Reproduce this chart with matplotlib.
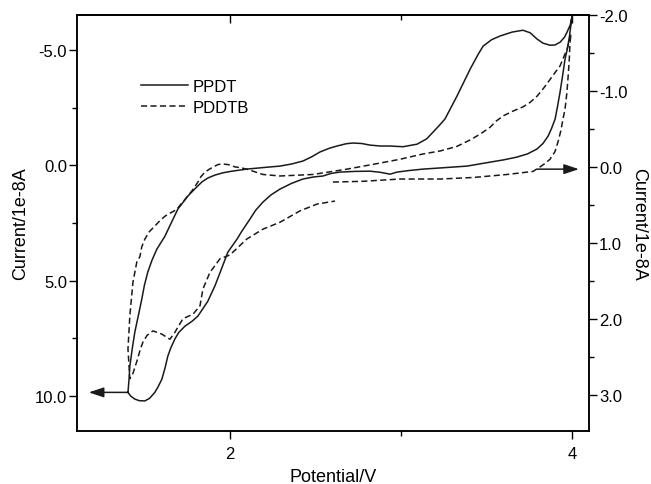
import matplotlib.pyplot as plt
from matplotlib.ticker import MultipleLocator, FormatStrFormatter

plt.rcParams['font.family'] = ['Liberation Sans', 'DejaVu Sans']

# PPDT (solid, left axis), current in 1e-8 A, cathodic up
ppdt_v = [1.404, 1.410, 1.415, 1.430, 1.444, 1.465, 1.485, 1.500, 1.520, 1.545,
          1.573, 1.620, 1.650, 1.696, 1.754, 1.800, 1.836, 1.870, 1.912, 1.960,
          2.012, 2.099, 2.200, 2.292, 2.360, 2.427, 2.480, 2.526, 2.580, 2.626,
          2.680, 2.719, 2.770, 2.819, 2.880, 2.936, 3.012, 3.094, 3.150, 3.187,
          3.220, 3.257, 3.327, 3.404, 3.450, 3.480, 3.530, 3.579, 3.650, 3.713,
          3.755, 3.795, 3.830, 3.871, 3.900, 3.930, 3.955, 3.971, 3.990, 4.000,
          3.985, 3.971, 3.959, 3.945, 3.930, 3.915, 3.901, 3.880, 3.860, 3.830,
          3.795, 3.740, 3.678, 3.600, 3.520, 3.386, 3.250, 3.129, 3.050, 2.977,
          2.936, 2.880, 2.819, 2.730, 2.643, 2.590, 2.544, 2.490, 2.427, 2.360,
          2.292, 2.240, 2.193, 2.150, 2.117, 2.070, 2.041, 1.988, 1.950, 1.912,
          1.870, 1.813, 1.780, 1.737, 1.700, 1.678, 1.655, 1.637, 1.620, 1.602,
          1.580, 1.561, 1.530, 1.503, 1.470, 1.444, 1.420, 1.404]
ppdt_i = [9.84, 9.30, 8.70, 7.90, 7.23, 6.50, 5.79, 5.20, 4.62, 4.10,
          3.63, 3.07, 2.60, 1.89, 1.33, 0.98, 0.72, 0.55, 0.42, 0.32,
          0.25, 0.16, 0.09, 0.03, -0.06, -0.19, -0.38, -0.58, -0.74, -0.84,
          -0.94, -0.97, -0.95, -0.88, -0.84, -0.84, -0.81, -0.92, -1.15, -1.44,
          -1.70, -2.01, -3.00, -4.17, -4.80, -5.17, -5.45, -5.61, -5.78, -5.86,
          -5.75, -5.48, -5.30, -5.21, -5.22, -5.34, -5.55, -5.78, -6.10, -6.47,
          -5.60, -5.00, -4.61, -3.90, -3.18, -2.55, -2.01, -1.60, -1.27, -0.95,
          -0.71, -0.50, -0.36, -0.24, -0.14, 0.03, 0.10, 0.16, 0.22, 0.29,
          0.38, 0.30, 0.25, 0.26, 0.29, 0.35, 0.46, 0.50, 0.59, 0.78,
          1.03, 1.28, 1.59, 1.95, 2.33, 2.85, 3.20, 3.76, 4.50, 5.23,
          5.90, 6.53, 6.75, 6.97, 7.25, 7.53, 7.90, 8.27, 8.80, 9.27,
          9.60, 9.84, 10.10, 10.21, 10.20, 10.13, 10.00, 9.84]

# PDDTB (dashed, right axis)
pddtb_v = [2.602, 2.778, 2.994, 3.228, 3.421, 3.620, 3.772, 3.813, 3.845, 3.871,
           3.900, 3.918, 3.935, 3.947, 3.959, 3.970, 3.977, 3.984, 3.988, 3.994,
           3.985, 3.971, 3.950, 3.930, 3.900, 3.871, 3.835, 3.795, 3.755, 3.713,
           3.650, 3.596, 3.555, 3.520, 3.462, 3.400, 3.327, 3.230, 3.129, 2.994,
           2.877, 2.684, 2.485, 2.292, 2.193, 2.099, 2.060, 2.029, 1.990, 1.953,
           1.930, 1.912, 1.880, 1.854, 1.830, 1.813, 1.780, 1.737, 1.710, 1.690,
           1.650, 1.620, 1.590, 1.561, 1.530, 1.503, 1.485, 1.474, 1.456, 1.433,
           1.415, 1.404, 1.415,
           1.433, 1.456, 1.474, 1.491, 1.515, 1.550, 1.600, 1.649, 1.678, 1.725,
           1.784, 1.825, 1.842, 1.883, 1.942, 2.000, 2.099, 2.193, 2.292, 2.409,
           2.509, 2.614]
pddtb_i = [0.20, 0.19, 0.16, 0.16, 0.14, 0.10, 0.06, 0.00, -0.05, -0.10,
           -0.20, -0.33, -0.48, -0.63, -0.76, -0.98, -1.19, -1.42, -1.64, -1.75,
           -1.66, -1.55, -1.44, -1.33, -1.24, -1.15, -1.04, -0.93, -0.85, -0.79,
           -0.73, -0.67, -0.60, -0.52, -0.43, -0.35, -0.27, -0.21, -0.17, -0.10,
           -0.05, 0.03, 0.10, 0.12, 0.10, 0.03, 0.01, 0.00, -0.03, -0.04,
           -0.03, -0.01, 0.03, 0.07, 0.13, 0.20, 0.31, 0.43, 0.50, 0.56,
           0.61, 0.65, 0.71, 0.78, 0.85, 0.95, 1.05, 1.18, 1.25, 1.52,
           1.96, 2.40, 2.79,
           2.72, 2.56, 2.42, 2.31, 2.22, 2.16, 2.20, 2.27, 2.18, 2.00,
           1.94, 1.83, 1.61, 1.39, 1.21, 1.16, 0.95, 0.82, 0.73, 0.58,
           0.49, 0.45]

# arrows marking which axis belongs to which curve
left_arrow = ((1.404, 9.84), (1.175, 9.84))
right_arrow = ((3.795, 0.03), (4.04, 0.03))

col = '#1a1a1a'
fig = plt.figure(figsize=(6.51, 4.85), dpi=100)
ax = fig.add_axes([0.118, 0.109, 0.787, 0.858])
ax2 = ax.twinx()

ax.plot(ppdt_v, ppdt_i, '-', color=col, lw=1.1, label='PPDT')
ax2.plot(pddtb_v, pddtb_i, color=col, lw=1.1, linestyle=(0, (4, 2.2)), label='PDDTB')

ax.annotate('', xy=left_arrow[1], xytext=left_arrow[0],
            arrowprops=dict(arrowstyle='-|>,head_length=0.6,head_width=0.2',
                            color=col, lw=1.1, mutation_scale=15,
                            shrinkA=0, shrinkB=0))
ax2.annotate('', xy=right_arrow[1], xytext=right_arrow[0],
             arrowprops=dict(arrowstyle='-|>,head_length=0.6,head_width=0.2',
                             color=col, lw=1.1, mutation_scale=15,
                             shrinkA=0, shrinkB=0))

ax.set_xlim(1.105, 4.10)
ax.set_ylim(11.52, -6.52)
ax2.set_ylim(3.48, -2.0)

ax.xaxis.set_major_locator(MultipleLocator(2))
ax.xaxis.set_minor_locator(MultipleLocator(1))
ax.yaxis.set_major_locator(MultipleLocator(5))
ax.yaxis.set_minor_locator(MultipleLocator(2.5))
ax.yaxis.set_major_formatter(FormatStrFormatter('%.1f'))
ax2.yaxis.set_major_locator(MultipleLocator(1))
ax2.yaxis.set_minor_locator(MultipleLocator(0.5))
ax2.yaxis.set_major_formatter(FormatStrFormatter('%.1f'))

ax.tick_params(axis='x', which='major', direction='out', length=6, width=1,
               labelsize=12, pad=5)
ax.tick_params(axis='x', which='minor', direction='out', length=3.5, width=1)
ax.tick_params(axis='y', which='major', direction='out', length=6, width=1,
               labelsize=12, pad=1)
ax.tick_params(axis='y', which='minor', direction='out', length=3.5, width=1)
ax2.tick_params(axis='y', which='major', direction='out', length=6, width=1,
                labelsize=12, pad=1)
ax2.tick_params(axis='y', which='minor', direction='out', length=3.5, width=1)

top = ax.secondary_xaxis('top')
top.xaxis.set_major_locator(MultipleLocator(2))
top.xaxis.set_minor_locator(MultipleLocator(1))
top.tick_params(which='major', direction='in', length=6, width=1, labeltop=False)
top.tick_params(which='minor', direction='in', length=3.5, width=1)

for a in (ax, ax2, top):
    for s in a.spines.values():
        s.set_linewidth(1.1)

ax.set_xlabel('Potential/V', fontsize=13, labelpad=4.5)
ax.set_ylabel('Current/1e-8A', fontsize=13, labelpad=4)
ax2.set_ylabel('Current/1e-8A', fontsize=13, rotation=270, labelpad=14)

h1, l1 = ax.get_legend_handles_labels()
h2, l2 = ax2.get_legend_handles_labels()
ax.legend(h1 + h2, l1 + l2, loc='upper left', bbox_to_anchor=(0.125, 0.846),
          frameon=False, fontsize=12, handlelength=2.8, handletextpad=0.3,
          labelspacing=0.33, borderpad=0, borderaxespad=0)

fig.savefig('out.png', dpi=100)
